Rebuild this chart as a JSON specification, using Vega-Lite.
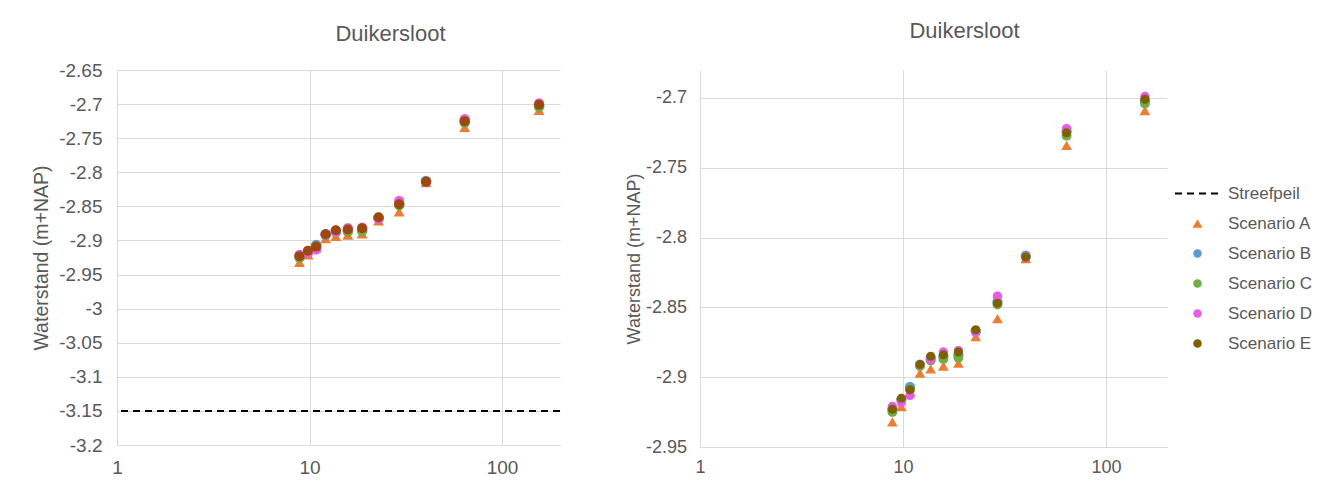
{
  "$schema": "https://vega.github.io/schema/vega-lite/v6.json",
  "background": "white",
  "padding": {"left": 31, "top": 20, "right": 5, "bottom": 5},
  "config": {
    "view": {"stroke": null},
    "font": "Liberation Sans",
    "axis": {"gridColor": "#D9D9D9", "gridWidth": 1, "domainColor": "#D9D9D9", "ticks": false, "labelColor": "#595959", "titleColor": "#595959", "titleFontWeight": "normal", "labelFont": "Liberation Sans", "titleFont": "Liberation Sans", "labelFlush": false, "labelOverlap": false},
    "title": {"color": "#595959", "fontWeight": "normal", "fontSize": 22, "font": "Liberation Sans"}
  },
  "datasets": {
    "pts": [
      {"x": 8.87, "series": "Scenario A", "y": -2.932},
      {"x": 9.82, "series": "Scenario A", "y": -2.921},
      {"x": 10.83, "series": "Scenario A", "y": -2.911},
      {"x": 12.13, "series": "Scenario A", "y": -2.897},
      {"x": 13.7, "series": "Scenario A", "y": -2.894},
      {"x": 15.82, "series": "Scenario A", "y": -2.892},
      {"x": 18.76, "series": "Scenario A", "y": -2.89},
      {"x": 22.84, "series": "Scenario A", "y": -2.871},
      {"x": 29.22, "series": "Scenario A", "y": -2.858},
      {"x": 40.3, "series": "Scenario A", "y": -2.815},
      {"x": 64, "series": "Scenario A", "y": -2.734},
      {"x": 155.7, "series": "Scenario A", "y": -2.709},
      {"x": 8.87, "series": "Scenario B", "y": -2.923},
      {"x": 9.82, "series": "Scenario B", "y": -2.916},
      {"x": 10.83, "series": "Scenario B", "y": -2.907},
      {"x": 12.13, "series": "Scenario B", "y": -2.891},
      {"x": 13.7, "series": "Scenario B", "y": -2.886},
      {"x": 15.82, "series": "Scenario B", "y": -2.885},
      {"x": 18.76, "series": "Scenario B", "y": -2.884},
      {"x": 22.84, "series": "Scenario B", "y": -2.867},
      {"x": 29.22, "series": "Scenario B", "y": -2.846},
      {"x": 40.3, "series": "Scenario B", "y": -2.813},
      {"x": 64, "series": "Scenario B", "y": -2.724},
      {"x": 155.7, "series": "Scenario B", "y": -2.702},
      {"x": 8.87, "series": "Scenario C", "y": -2.925},
      {"x": 9.82, "series": "Scenario C", "y": -2.916},
      {"x": 10.83, "series": "Scenario C", "y": -2.909},
      {"x": 12.13, "series": "Scenario C", "y": -2.892},
      {"x": 13.7, "series": "Scenario C", "y": -2.888},
      {"x": 15.82, "series": "Scenario C", "y": -2.887},
      {"x": 18.76, "series": "Scenario C", "y": -2.886},
      {"x": 22.84, "series": "Scenario C", "y": -2.867},
      {"x": 29.22, "series": "Scenario C", "y": -2.848},
      {"x": 40.3, "series": "Scenario C", "y": -2.814},
      {"x": 64, "series": "Scenario C", "y": -2.727},
      {"x": 155.7, "series": "Scenario C", "y": -2.704},
      {"x": 8.87, "series": "Scenario D", "y": -2.921},
      {"x": 9.82, "series": "Scenario D", "y": -2.918},
      {"x": 10.83, "series": "Scenario D", "y": -2.913},
      {"x": 12.13, "series": "Scenario D", "y": -2.891},
      {"x": 13.7, "series": "Scenario D", "y": -2.887},
      {"x": 15.82, "series": "Scenario D", "y": -2.882},
      {"x": 18.76, "series": "Scenario D", "y": -2.881},
      {"x": 22.84, "series": "Scenario D", "y": -2.868},
      {"x": 29.22, "series": "Scenario D", "y": -2.842},
      {"x": 40.3, "series": "Scenario D", "y": -2.814},
      {"x": 64, "series": "Scenario D", "y": -2.722},
      {"x": 155.7, "series": "Scenario D", "y": -2.699},
      {"x": 8.87, "series": "Scenario E", "y": -2.923},
      {"x": 9.82, "series": "Scenario E", "y": -2.915},
      {"x": 10.83, "series": "Scenario E", "y": -2.909},
      {"x": 12.13, "series": "Scenario E", "y": -2.891},
      {"x": 13.7, "series": "Scenario E", "y": -2.885},
      {"x": 15.82, "series": "Scenario E", "y": -2.884},
      {"x": 18.76, "series": "Scenario E", "y": -2.882},
      {"x": 22.84, "series": "Scenario E", "y": -2.866},
      {"x": 29.22, "series": "Scenario E", "y": -2.847},
      {"x": 40.3, "series": "Scenario E", "y": -2.814},
      {"x": 64, "series": "Scenario E", "y": -2.725},
      {"x": 155.7, "series": "Scenario E", "y": -2.701}
    ]
  },
  "spacing": 64,
  "resolve": {"scale": {"color": "independent", "shape": "independent", "size": "independent"}},
  "hconcat": [
    {
      "width": 443,
      "height": 375,
      "title": {"text": "Duikersloot", "dx": 52, "offset": 15.3},
      "layer": [
        {
          "data": {"values": [{"y": -3.15}]},
          "mark": {"type": "rule", "color": "#000000", "strokeWidth": 2, "strokeDash": [7, 5]},
          "encoding": {
            "y": {"field": "y", "type": "quantitative", "scale": {"domain": [-3.2, -2.65], "nice": false, "zero": false},
              "axis": {"title": "Waterstand (m+NAP)", "values": [-3.2, -3.15, -3.1, -3.05, -3, -2.95, -2.9, -2.85, -2.8, -2.75, -2.7, -2.65], "labelExpr": "'' + datum.value", "labelFontSize": 19, "titleFontSize": 19.5, "labelPadding": 15, "titlePadding": 7, "domain": false}}
          }
        },
        {
          "data": {"name": "pts"},
          "mark": {"type": "point", "filled": true, "opacity": 1, "strokeWidth": 0},
          "encoding": {
            "x": {"field": "x", "type": "quantitative", "scale": {"type": "log", "domain": [1, 200], "nice": false},
              "axis": {"title": null, "values": [1, 10, 100], "labelExpr": "'' + datum.value", "labelFontSize": 19, "labelPadding": 13, "grid": true}},
            "y": {"field": "y", "type": "quantitative", "scale": {"domain": [-3.2, -2.65], "nice": false, "zero": false},
              "axis": {"title": "Waterstand (m+NAP)", "values": [-3.2, -3.15, -3.1, -3.05, -3, -2.95, -2.9, -2.85, -2.8, -2.75, -2.7, -2.65], "labelExpr": "'' + datum.value", "labelFontSize": 19, "titleFontSize": 19.5, "labelPadding": 15, "titlePadding": 7, "domain": false}},
            "color": {"field": "series", "type": "nominal", "scale": {"domain": ["Scenario A", "Scenario B", "Scenario C", "Scenario D", "Scenario E"], "range": ["#ED7D31", "#5B9BD5", "#70AD47", "#E65CE6", "#9E480E"]}, "legend": null},
            "shape": {"field": "series", "type": "nominal", "scale": {"domain": ["Scenario A", "Scenario B", "Scenario C", "Scenario D", "Scenario E"], "range": ["triangle-up", "circle", "circle", "circle", "circle"]}, "legend": null},
            "size": {"field": "series", "type": "nominal", "scale": {"domain": ["Scenario A", "Scenario B", "Scenario C", "Scenario D", "Scenario E"], "range": [120, 100, 100, 100, 100]}, "legend": null}
          }
        }
      ]
    },
    {
      "width": 467,
      "height": 377,
      "title": {"text": "Duikersloot", "dx": 31, "offset": 27},
      "data": {"name": "pts"},
      "mark": {"type": "point", "filled": true, "opacity": 1, "strokeWidth": 0},
      "encoding": {
        "x": {"field": "x", "type": "quantitative", "scale": {"type": "log", "domain": [1, 200], "nice": false},
          "axis": {"title": null, "values": [1, 10, 100], "labelExpr": "'' + datum.value", "labelFontSize": 18, "labelPadding": 11, "grid": true}},
        "y": {"field": "y", "type": "quantitative", "scale": {"domain": [-2.95, -2.68], "nice": false, "zero": false},
          "axis": {"title": "Waterstand (m+NAP)", "values": [-2.95, -2.9, -2.85, -2.8, -2.75, -2.7], "labelExpr": "'' + datum.value", "labelFontSize": 18, "titleFontSize": 18, "labelPadding": 13.5, "titlePadding": 2, "domain": false}},
        "color": {"field": "series", "type": "nominal",
          "scale": {"domain": ["Streefpeil", "Scenario A", "Scenario B", "Scenario C", "Scenario D", "Scenario E"], "range": ["#000000", "#ED7D31", "#5B9BD5", "#70AD47", "#E65CE6", "#7F6000"]},
          "legend": {
            "title": null, "orient": "none", "legendX": 489, "legendY": 115, "padding": 0,
            "labelFontSize": 17, "labelColor": "#595959", "labelFont": "Liberation Sans",
            "symbolSize": 72, "symbolOpacity": 1, "rowPadding": 12, "labelOffset": 22,
            "encode": {"symbols": {"update": {
              "stroke": {"signal": "datum.value === 'Streefpeil' ? '#000000' : 'transparent'"},
              "strokeWidth": {"signal": "datum.value === 'Streefpeil' ? 2 : 0"},
              "strokeDash": {"signal": "datum.value === 'Streefpeil' ? [7, 5] : []"},
              "size": {"signal": "datum.value === 'Streefpeil' ? 2025 : (datum.value === 'Scenario A' ? 100 : 72)"}
            }}}
          }},
        "shape": {"field": "series", "type": "nominal",
          "scale": {"domain": ["Streefpeil", "Scenario A", "Scenario B", "Scenario C", "Scenario D", "Scenario E"], "range": ["stroke", "triangle-up", "circle", "circle", "circle", "circle"]}},
        "size": {"field": "series", "type": "nominal", "scale": {"domain": ["Scenario A", "Scenario B", "Scenario C", "Scenario D", "Scenario E"], "range": [115, 81, 81, 81, 81]}, "legend": null}
      }
    }
  ]
}
